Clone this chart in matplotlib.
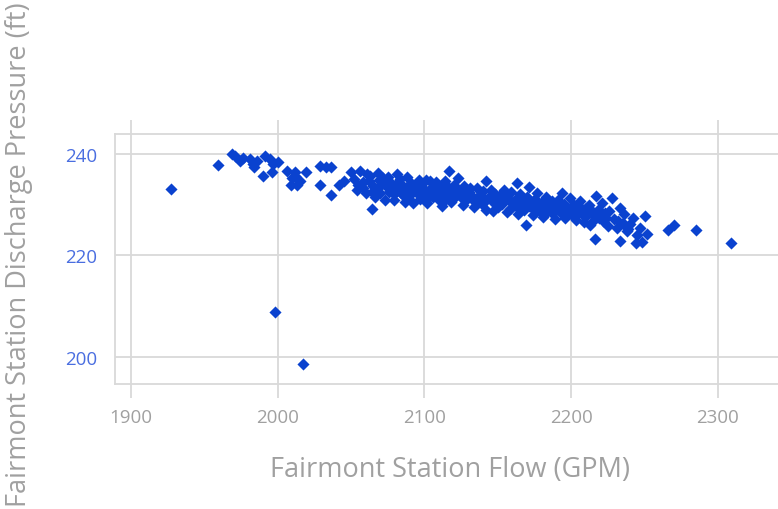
import matplotlib
matplotlib.use("Agg")
import matplotlib.pyplot as plt

# Przepływ (GPM) i ciśnienie tłoczenia (ft)
flow_gpm = [
    1927, 1959, 1969, 1971, 1974, 1976, 1981, 1983, 1986, 1984,
    1991, 1990, 1995, 1997, 1996, 2000, 1998, 2017, 2006, 2009,
    2012, 2013, 2012, 2015, 2010, 2019, 2029, 2033, 2036, 2029,
    2036, 2042, 2045, 2050, 2056, 2057, 2064, 2063, 2069, 2070,
    2074, 2081, 2082, 2086, 2089, 2092, 2095, 2095, 2104, 2113,
    2117, 2131, 2142, 2163, 2169, 2147, 2158, 2177, 2194, 2217,
    2228, 2216, 2233, 2244, 2250, 2233, 2242, 2252, 2213, 2222,
    2231, 2238, 2247, 2266, 2270, 2285, 2309,
    2052, 2054, 2058, 2060, 2061, 2065, 2066, 2068, 2071, 2073,
    2075, 2076, 2078, 2079, 2080, 2083, 2084, 2085, 2087, 2088, 2090, 2091,
    2093, 2096, 2097, 2098, 2100, 2101, 2102, 2105, 2106, 2108, 2109, 2111, 2112,
    2114, 2115, 2117, 2118, 2120, 2121, 2123, 2124, 2126, 2127, 2129, 2130,
    2133, 2134, 2136, 2137, 2139, 2140, 2142, 2144, 2145, 2147, 2148, 2150,
    2151, 2153, 2154, 2156, 2157, 2159, 2160, 2162, 2164, 2165, 2166, 2168, 2170,
    2171, 2172, 2174, 2175, 2177, 2178, 2180, 2181, 2183, 2184, 2186, 2187, 2189, 2190,
    2191, 2193, 2195, 2196, 2198, 2199, 2200, 2202, 2203, 2205, 2206, 2208, 2209, 2210,
    2212, 2214, 2215, 2218, 2219, 2221, 2223, 2225, 2226, 2229, 2232, 2236, 2240, 2245, 2248,
    2055, 2062, 2067, 2072, 2077, 2082, 2086, 2089, 2094, 2099,
    2103, 2107, 2110, 2116, 2119, 2122, 2125, 2128, 2132, 2135,
    2138, 2141, 2146, 2149, 2152, 2155, 2158, 2161, 2163, 2167,
    2169, 2173, 2176, 2179, 2182, 2185, 2188, 2192, 2194, 2197,
    2201, 2204, 2207, 2211, 2213, 2217, 2220, 2224,
    2058, 2064, 2070, 2079, 2092, 2104, 2113, 2127, 2139, 2150,
    2160, 2171, 2183, 2196, 2209, 2222, 2235, 2239,
]
pressure_ft = [
    233.1, 237.8, 240.0, 239.7, 238.7, 239.2, 239.0, 238.0, 238.7, 237.4,
    239.7, 235.7, 239.0, 238.0, 236.4, 238.4, 208.9, 198.6, 236.7, 234.0,
    235.7, 234.0, 236.4, 234.7, 235.4, 236.4, 237.7, 237.4, 237.4, 234.0,
    232.0, 234.0, 234.7, 236.4, 236.7, 233.7, 229.1, 235.7, 235.0, 232.4,
    233.7, 236.0, 233.0, 231.7, 233.7, 230.4, 232.4, 234.0, 234.7, 230.8,
    236.7, 233.4, 234.7, 234.4, 226.1, 228.8, 230.8, 230.1, 232.4, 231.7,
    231.4, 223.2, 222.8, 222.5, 227.8, 229.4, 227.5, 224.2, 226.1, 226.8,
    225.5, 224.8, 225.5, 225.0, 226.1, 225.0, 222.4,
    235.2, 233.0, 234.6, 232.3, 236.0, 233.8, 231.5, 236.3, 234.4, 231.0,
    235.6, 232.6, 234.2, 230.9, 233.4, 235.1, 232.4, 234.0, 230.6, 235.6, 232.0, 234.4,
    233.2, 235.0, 231.2, 233.6, 232.6, 234.9, 230.3, 233.4, 231.6, 234.6, 232.4, 233.8, 229.8,
    234.8, 232.0, 233.2, 230.5, 234.0, 231.6, 235.3, 232.7, 230.0, 233.8, 231.2, 232.6,
    231.0, 229.6, 233.4, 231.8, 230.2, 232.7, 229.0, 231.5, 233.0, 230.6, 232.2, 229.5,
    231.8, 230.2, 233.0, 228.6, 231.2, 232.6, 229.8, 231.0, 228.2, 232.2, 230.2, 229.0, 231.6,
    233.6, 230.0, 228.0, 231.2, 232.4, 229.2, 230.6, 227.6, 231.6, 229.8, 228.6, 230.8, 227.2, 229.6,
    231.0, 228.4, 230.2, 227.5, 229.4, 231.4, 228.2, 230.0, 227.0, 229.0, 230.8, 228.0, 226.6, 229.4,
    230.0, 228.2, 226.8, 229.0, 227.4, 230.4, 228.4, 225.8, 228.8, 227.2, 226.8, 228.2, 226.2, 224.0, 222.6,
    234.0, 234.8, 232.8, 235.4, 233.6, 234.6, 233.0, 231.4, 233.8, 231.8,
    233.0, 232.8, 231.0, 233.6, 232.6, 233.2, 231.6, 232.8, 232.0, 230.8,
    232.0, 230.8, 231.8, 230.8, 230.2, 231.6, 229.2, 230.6, 229.6, 231.0,
    229.8, 229.4, 230.0, 228.8, 229.4, 230.4, 228.6, 229.0, 229.6, 228.8,
    229.2, 228.2, 229.4, 228.0, 229.2, 228.0, 228.6, 227.4,
    233.4, 232.6, 233.8, 232.2, 232.8, 231.8, 232.2, 231.4, 231.2, 230.4,
    230.6, 229.8, 228.4, 229.8, 228.4, 227.8, 226.4, 225.2,
]

x_ticks = [1900, 2000, 2100, 2200, 2300]
y_ticks = [200, 220, 240]

grid_color = "#d9d9d9"
point_color = "#0a42cf"

plt.rcParams["font.family"] = ["Open Sans", "DejaVu Sans"]

fig = plt.figure(figsize=(7.78, 5.10), dpi=100)
ax = fig.add_axes([115 / 778, 1 - 385 / 510, 1 - 115 / 778, 250 / 510])

ax.scatter(flow_gpm, pressure_ft, marker="D", s=38, color=point_color,
           linewidths=0, zorder=3)

ax.set_xlim(1889, 2341)
ax.set_ylim(194.6, 244)
ax.set_xticks(x_ticks)
ax.set_yticks(y_ticks)

ax.grid(True, color=grid_color, linewidth=1.3)
ax.set_axisbelow(True)

for side in ["left", "top", "bottom"]:
    ax.spines[side].set_color(grid_color)
    ax.spines[side].set_linewidth(1.3)
ax.spines["right"].set_visible(False)

ax.tick_params(axis="x", top=True, bottom=True, length=10, width=1.3,
               color=grid_color, labelsize=13.5, labelcolor="#a0a0a0", pad=7)
ax.tick_params(axis="y", length=0, labelsize=13.5, labelcolor="#4a6ee0", pad=13)

fig.text(450 / 778, 1 - 470 / 510, "Fairmont Station Flow (GPM)",
         ha="center", va="center", fontsize=19.5, color="#a0a0a0")
fig.text(19 / 778, 1 - 255 / 510, "Fairmont Station Discharge Pressure (ft)",
         ha="center", va="center", rotation=90, fontsize=19.5, color="#a0a0a0")

fig.savefig("out.png", dpi=100)
